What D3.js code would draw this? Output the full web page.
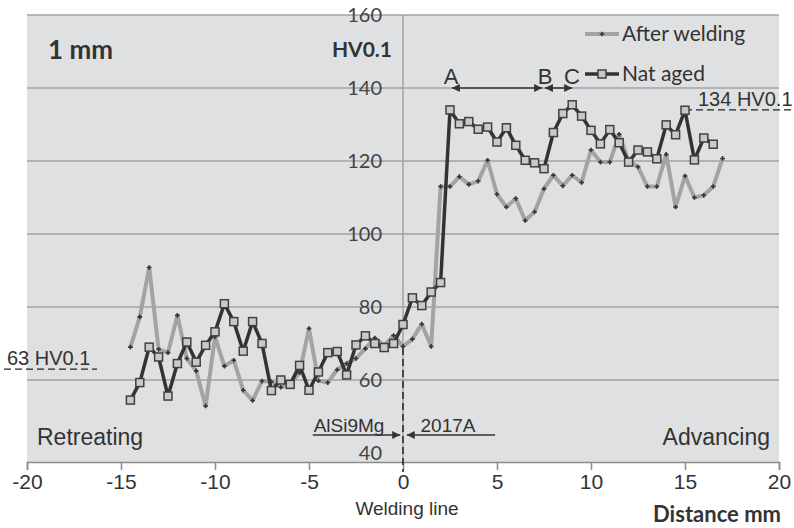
<!DOCTYPE html>
<html>
<head>
<meta charset="utf-8">
<script src="https://cdn.jsdelivr.net/npm/d3@7/dist/d3.min.js"></script>
<style>
  html, body { margin: 0; padding: 0; background: #ffffff; }
  svg { display: block; }
  .narrow { font-family: "Liberation Sans Narrow", "Arial Narrow", "Liberation Sans", sans-serif; }
  .cal { font-family: Lato, "Open Sans", sans-serif; }
</style>
</head>
<body>
<svg id="chart" width="794" height="528"></svg>
<script>
// ---- data ----
const xStart = -14.5, xStep = 0.5;
const afterWelding = [
  69.0, 77.3, 90.8, 68.4, 67.5, 77.7, 65.9, 62.5, 52.9, 71.8,
  63.8, 65.4, 57.2, 54.4, 59.7, 59.5, 58.0, 59.0, 62.0, 74.1,
  59.8, 59.3, 62.8, 64.5, 65.9, 68.6, 71.5, 69.5, 72.2, 69.2,
  71.2, 75.3, 69.2, 113.0, 113.0, 115.7, 113.6, 114.5, 120.2, 110.9,
  107.4, 109.7, 103.7, 106.1, 112.4, 116.1, 113.2, 116.1, 114.1, 123.0,
  119.7, 119.7, 127.3, 120.0, 118.4, 113.0, 113.0, 121.8, 107.4, 115.9,
  110.0, 110.6, 113.0, 120.7
];
const natAged = [
  54.5, 59.3, 69.0, 66.3, 55.6, 64.5, 70.4, 64.9, 69.5, 73.2,
  80.9, 76.0, 67.9, 76.0, 70.0, 57.1, 60.0, 58.8, 64.0, 57.2,
  62.2, 67.5, 67.8, 61.4, 69.6, 72.1, 70.0, 68.9, 70.0, 75.2,
  82.5, 80.4, 84.1, 86.7, 134.0, 130.2, 130.8, 128.7, 129.3, 125.2,
  129.1, 124.3, 120.2, 119.5, 117.9, 127.8, 133.0, 135.4, 132.3, 128.4,
  124.7, 128.6, 125.0, 119.7, 123.0, 122.5, 120.6, 129.9, 127.2, 133.9,
  120.3, 126.3, 124.6
];
const xTicks = [-20, -15, -10, -5, 0, 5, 10, 15, 20];
const yTicks = [40, 60, 80, 100, 120, 140, 160];
const seriesNames = ["After welding", "Nat aged"];
const refLines = [{ v: 134, label: "134 HV0.1" }, { v: 63, label: "63 HV0.1" }];

// ---- scales ----
const svg = d3.select("#chart");
const x = d3.scaleLinear().domain([-20, 20]).range([27, 779]);
const y = d3.scaleLinear().domain([40, 160]).range([453, 15]);
const axisY = 462;

const aw = afterWelding.map((v, i) => ({ x: xStart + i * xStep, v }));
const na = natAged.map((v, i) => ({ x: xStart + i * xStep, v }));

// background
svg.append("rect").attr("x", x(-20)).attr("y", y(160))
  .attr("width", x(20) - x(-20)).attr("height", axisY - y(160))
  .attr("fill", "#dfe0e2");

// gridlines
svg.append("g").selectAll("line").data(yTicks.filter(d => d > 40)).join("line")
  .attr("x1", x(-20)).attr("x2", x(20))
  .attr("y1", d => y(d)).attr("y2", d => y(d))
  .attr("stroke", "#a3a3a3").attr("stroke-width", 1.5);

// y axis line at x = 0
svg.append("line").attr("x1", x(0)).attr("x2", x(0)).attr("y1", y(160)).attr("y2", axisY)
  .attr("stroke", "#a3a3a3").attr("stroke-width", 1.5);

// x axis
const xAxis = d3.axisBottom(x).tickValues(xTicks).tickSize(8).tickFormat(d => String(d));
const gx = svg.append("g").attr("transform", `translate(0,${axisY})`).call(xAxis);
gx.select(".domain").attr("stroke", "#8a8a8a").attr("stroke-width", 1.5);
gx.selectAll(".tick line").attr("stroke", "#8a8a8a").attr("stroke-width", 1.5);
gx.selectAll(".tick text").attr("class", "narrow").attr("font-size", 21).attr("fill", "#333")
  .attr("dy", null).attr("y", 27);

// y tick labels (left of the x=0 axis)
svg.append("g").selectAll("text").data(yTicks).join("text")
  .attr("class", "cal")
  .attr("x", x(0) - 21).attr("y", d => y(d))
  .attr("dy", "0.35em").attr("text-anchor", "end")
  .attr("font-size", 20).attr("fill", "#444")
  .text(d => d);

// welding line (dashed)
svg.append("line").attr("x1", x(0)).attr("x2", x(0)).attr("y1", 348).attr("y2", 472)
  .attr("stroke", "#222").attr("stroke-width", 1.5).attr("stroke-dasharray", "7,4");

// reference dashed lines
svg.append("line").attr("x1", x(15)).attr("x2", 794).attr("y1", y(134)).attr("y2", y(134))
  .attr("stroke", "#222").attr("stroke-width", 1.2).attr("stroke-dasharray", "7,4");
svg.append("text").attr("class", "narrow").attr("x", 698).attr("y", y(134) - 4)
  .attr("font-size", 20).attr("fill", "#333").text(refLines[0].label);
svg.append("line").attr("x1", 4).attr("x2", 97).attr("y1", y(63)).attr("y2", y(63))
  .attr("stroke", "#222").attr("stroke-width", 1.2).attr("stroke-dasharray", "7,4");
svg.append("text").attr("class", "narrow").attr("x", 7).attr("y", y(63) - 4)
  .attr("font-size", 20).attr("fill", "#333").text(refLines[1].label);

// lines
const line = d3.line().x(d => x(d.x)).y(d => y(d.v));
svg.append("path").datum(aw).attr("d", line).attr("fill", "none")
  .attr("stroke", "#a3a3a3").attr("stroke-width", 4).attr("stroke-linejoin", "round");
svg.append("g").selectAll("path").data(aw).join("path")
  .attr("transform", d => `translate(${x(d.x)},${y(d.v)})`)
  .attr("d", d3.symbol(d3.symbolCross, 12)).attr("fill", "#333");

svg.append("path").datum(na).attr("d", line).attr("fill", "none")
  .attr("stroke", "#333").attr("stroke-width", 3.5).attr("stroke-linejoin", "round");
svg.append("g").selectAll("rect").data(na).join("rect")
  .attr("x", d => x(d.x) - 4).attr("y", d => y(d.v) - 4)
  .attr("width", 8).attr("height", 8)
  .attr("fill", "#c9c9c9").attr("stroke", "#404040").attr("stroke-width", 1.5);

// legend
const lg = svg.append("g");
lg.append("line").attr("x1", 585).attr("x2", 619).attr("y1", 34).attr("y2", 34)
  .attr("stroke", "#a3a3a3").attr("stroke-width", 4);
lg.append("path").attr("transform", "translate(602,34)").attr("d", d3.symbol(d3.symbolCross, 12)).attr("fill", "#333");
lg.append("text").attr("class", "cal").attr("x", 622).attr("y", 34).attr("dy", "0.35em")
  .attr("font-size", 21).attr("fill", "#333").text(seriesNames[0]);
lg.append("line").attr("x1", 585).attr("x2", 619).attr("y1", 74).attr("y2", 74)
  .attr("stroke", "#333").attr("stroke-width", 3.5);
lg.append("rect").attr("x", 598).attr("y", 70).attr("width", 8).attr("height", 8)
  .attr("fill", "#c9c9c9").attr("stroke", "#404040").attr("stroke-width", 1.5);
lg.append("text").attr("class", "cal").attr("x", 622).attr("y", 74).attr("dy", "0.35em")
  .attr("font-size", 21).attr("fill", "#333").text(seriesNames[1]);

// arrows
const defs = svg.append("defs");
defs.append("marker").attr("id", "ah").attr("viewBox", "0 0 10 10").attr("refX", 10).attr("refY", 5)
  .attr("markerWidth", 9).attr("markerHeight", 8).attr("markerUnits", "userSpaceOnUse").attr("orient", "auto-start-reverse")
  .append("path").attr("d", "M0,0 L10,5 L0,10 Z").attr("fill", "#333");
function arrow(x1, x2, yy, both) {
  const l = svg.append("line").attr("x1", x1).attr("x2", x2).attr("y1", yy).attr("y2", yy)
    .attr("stroke", "#333").attr("stroke-width", 1.5).attr("marker-end", "url(#ah)");
  if (both) l.attr("marker-start", "url(#ah)");
}
arrow(x(2.6), x(7.4), y(140), true);
arrow(x(7.55), x(9.0), y(140), true);
arrow(x(-4.8), x(-0.15), 435, false);
arrow(x(4.9), x(0.2), 435, false);

// text annotations
const ann = [
  { t: "A", x: 451, y: 76, s: 22, c: "narrow", a: "middle" },
  { t: "B", x: 545, y: 76, s: 22, c: "narrow", a: "middle" },
  { t: "C", x: 572, y: 76, s: 22, c: "narrow", a: "middle" },
  { t: "AlSi9Mg", x: 349, y: 425, s: 19, c: "narrow", a: "middle" },
  { t: "2017A", x: 448, y: 425, s: 19, c: "narrow", a: "middle" },
  { t: "Retreating", x: 37, y: 437, s: 23, c: "narrow", a: "start" },
  { t: "Advancing", x: 770, y: 437, s: 23, c: "narrow", a: "end" },
  { t: "Welding line", x: 407, y: 508, s: 19, c: "narrow", a: "middle" }
];
svg.append("g").selectAll("text").data(ann).join("text")
  .attr("class", d => d.c).attr("x", d => d.x).attr("y", d => d.y).attr("dy", "0.35em")
  .attr("text-anchor", d => d.a).attr("font-size", d => d.s).attr("fill", "#333").text(d => d.t);

svg.append("text").attr("class", "cal").attr("x", 48).attr("y", 50).attr("dy", "0.35em")
  .attr("font-size", 26).attr("font-weight", "bold").attr("fill", "#333").text("1 mm");
svg.append("text").attr("class", "cal").attr("x", 392).attr("y", 50).attr("dy", "0.35em")
  .attr("text-anchor", "end").attr("font-size", 21).attr("font-weight", "bold").attr("fill", "#333").text("HV0.1");
svg.append("text").attr("class", "cal").attr("x", 781).attr("y", 514).attr("dy", "0.35em")
  .attr("text-anchor", "end").attr("font-size", 22).attr("font-weight", "bold").attr("fill", "#333").text("Distance mm");
</script>
</body>
</html>
